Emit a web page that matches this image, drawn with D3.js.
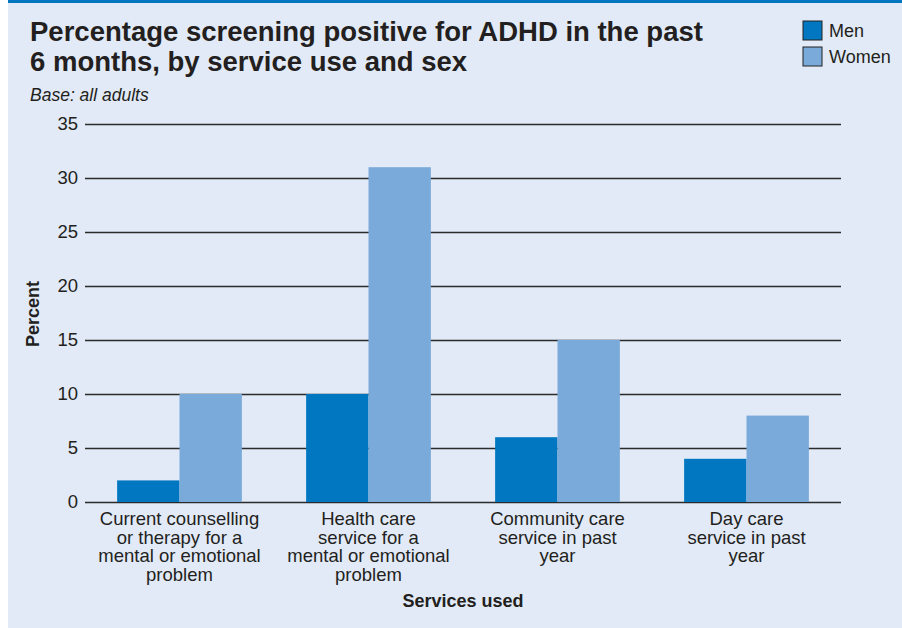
<!DOCTYPE html>
<meta charset="utf-8">
<style>
    body { margin: 0; background: #fff; }
    svg text { font-family: "Liberation Sans", Arial, sans-serif; fill: #231f20; }
    .title { font-size: 27.5px; font-weight: bold; }
    .subtitle { font-size: 17.5px; font-style: italic; }
    .tick text { font-size: 18.5px; }
    .grid line { stroke: #2b2b2b; stroke-width: 1.3; }
    .axisTitle { font-size: 18px; font-weight: bold; }
    .catLabel { font-size: 18.5px; }
    .legend text { font-size: 18px; }
</style>

<svg width="902" height="628"></svg>
<script src="https://d3js.org/d3.v7.min.js"></script>
<script>
    // The data
    var categories = [
        ["Current counselling", "or therapy for a", "mental or emotional", "problem"],
        ["Health care", "service for a", "mental or emotional", "problem"],
        ["Community care", "service in past", "year"],
        ["Day care", "service in past", "year"]
    ];
    var seriesNames = ["Men", "Women"];
    var men = [2, 10, 6, 4];
    var women = [10, 31, 15, 8];
    var yTicks = [0, 5, 10, 15, 20, 25, 30, 35];
    var colors = ["#0077c0", "#7aaad9"];

    var svg = d3.select("svg"),
        width = +svg.attr("width"),
        height = +svg.attr("height");

    // panel + top rule
    svg.append("rect").attr("x", 8).attr("y", 0).attr("width", width - 8).attr("height", height)
        .attr("fill", "#e2eaf7");
    svg.append("rect").attr("x", 8).attr("y", 0).attr("width", width - 8).attr("height", 3)
        .attr("fill", "#0077c0");

    // titles
    svg.append("text").attr("class", "title").attr("x", 30).attr("y", 41)
        .text("Percentage screening positive for ADHD in the past");
    svg.append("text").attr("class", "title").attr("x", 30).attr("y", 71)
        .text("6 months, by service use and sex");
    svg.append("text").attr("class", "subtitle").attr("x", 30).attr("y", 101)
        .text("Base: all adults");

    var margin = {left: 85, right: 841, top: 124, bottom: 502};

    var x = d3.scaleBand()
        .domain(d3.range(categories.length))
        .range([margin.left, margin.right])
        .paddingInner(0.34)
        .paddingOuter(0.17);
    var xSub = d3.scaleBand()
        .domain(seriesNames)
        .range([0, x.bandwidth()]);
    var y = d3.scaleLinear()
        .domain([0, 35])
        .range([margin.bottom, margin.top]);

    // gridlines + tick labels
    var yAxis = svg.append("g")
        .attr("class", "grid")
        .attr("transform", "translate(" + margin.left + ",0)")
        .call(d3.axisLeft(y).tickValues(yTicks).tickSize(-(margin.right - margin.left)).tickPadding(7));
    yAxis.select(".domain").remove();
    yAxis.selectAll(".tick text").attr("fill", "#231f20");
    yAxis.selectAll(".tick").filter(function (d) { return d === 0; }).select("line")
        .attr("stroke", "#666").attr("stroke-width", 2);

    // bars
    var rows = categories.map(function (c, i) { return {i: i, values: [men[i], women[i]]}; });
    var groups = svg.append("g").selectAll("g")
        .data(rows).enter().append("g")
        .attr("transform", function (d) { return "translate(" + x(d.i) + ",0)"; });
    groups.selectAll("rect")
        .data(function (d) { return d.values.map(function (v, k) { return {k: k, v: v}; }); })
        .enter().append("rect")
        .attr("x", function (d) { return xSub(seriesNames[d.k]); })
        .attr("width", xSub.bandwidth())
        .attr("y", function (d) { return y(d.v); })
        .attr("height", function (d) { return y(0) - y(d.v); })
        .attr("fill", function (d) { return colors[d.k]; });

    // category labels
    svg.append("g").selectAll("text")
        .data(categories).enter().append("text")
        .attr("class", "catLabel")
        .attr("text-anchor", "middle")
        .attr("x", function (d, i) { return x(i) + x.bandwidth() / 2; })
        .attr("y", 525)
        .selectAll("tspan")
        .data(function (d) { return d; }).enter().append("tspan")
        .attr("x", function () { return d3.select(this.parentNode).attr("x"); })
        .attr("dy", function (d, i) { return i === 0 ? 0 : 18.5; })
        .text(function (d) { return d; });

    // axis titles
    svg.append("text").attr("class", "axisTitle").attr("text-anchor", "middle")
        .attr("x", (margin.left + margin.right) / 2).attr("y", 607)
        .text("Services used");
    svg.append("text").attr("class", "axisTitle").attr("text-anchor", "middle")
        .attr("transform", "translate(39,314) rotate(-90)")
        .text("Percent");

    // legend
    var legend = svg.append("g").attr("class", "legend")
        .selectAll("g").data(seriesNames).enter().append("g")
        .attr("transform", function (d, i) { return "translate(803," + (21 + i * 26) + ")"; });
    legend.append("rect").attr("width", 19).attr("height", 19)
        .attr("fill", function (d, i) { return colors[i]; })
        .attr("stroke", "#222").attr("stroke-width", 1);
    legend.append("text").attr("x", 26).attr("y", 16).text(function (d) { return d; });
</script>
